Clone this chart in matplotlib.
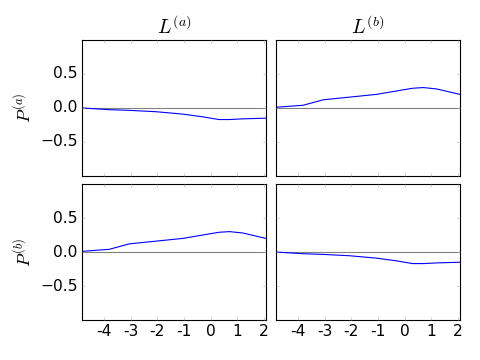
import numpy as np
import matplotlib
matplotlib.use("Agg")
import matplotlib.pyplot as plt

plt.style.use("classic")

x = [-4.82, -3.8, -3.05, -2.05, -1.05, -0.3, 0.3, 0.7, 1.2, 2.07]

# top-left: P(a) vs L(a)
y_aa = [0.0, -0.025, -0.035, -0.055, -0.09, -0.13, -0.17, -0.17, -0.16, -0.15]
# top-right: P(a) vs L(b)
y_ab = [0.01, 0.04, 0.12, 0.16, 0.2, 0.25, 0.29, 0.3, 0.28, 0.2]
# bottom-left: P(b) vs L(a)
y_ba = [0.01, 0.04, 0.12, 0.16, 0.2, 0.25, 0.29, 0.3, 0.28, 0.2]
# bottom-right: P(b) vs L(b)
y_bb = [0.0, -0.025, -0.035, -0.055, -0.09, -0.13, -0.17, -0.17, -0.16, -0.15]

col_titles = [r"$L^{(a)}$", r"$L^{(b)}$"]
row_labels = [r"$P^{(a)}$", r"$P^{(b)}$"]
xticks = [-4, -3, -2, -1, 0, 1, 2]
yticks = [-0.5, 0.0, 0.5]

fig, axes = plt.subplots(2, 2, figsize=(6, 4.5), dpi=80, sharex=True, sharey=True)
fig.subplots_adjust(left=0.171, right=0.958, top=0.889, bottom=0.111,
                    wspace=0.054, hspace=0.059)

data = [[y_aa, y_ab], [y_ba, y_bb]]
for i in range(2):
    for j in range(2):
        ax = axes[i, j]
        ax.axhline(0, color="gray", lw=1)
        ax.plot(x, data[i][j], color="b", lw=1)
        ax.set_xlim(-4.82, 2.07)
        ax.set_ylim(-1, 1)
        ax.set_xticks(xticks)
        ax.set_xticklabels([str(t) for t in xticks])
        ax.set_yticks(yticks)
        ax.tick_params(color="#aaaaaa", labelsize=14, length=3)
        if i == 0:
            ax.set_title(col_titles[j], fontsize=18)
        if j == 0:
            ax.set_ylabel(row_labels[i], fontsize=16)
            ax.tick_params(labelleft=True)
        else:
            ax.tick_params(labelleft=False)
        if i == 0:
            ax.tick_params(labelbottom=False)

fig.savefig("out.png", dpi=80)
